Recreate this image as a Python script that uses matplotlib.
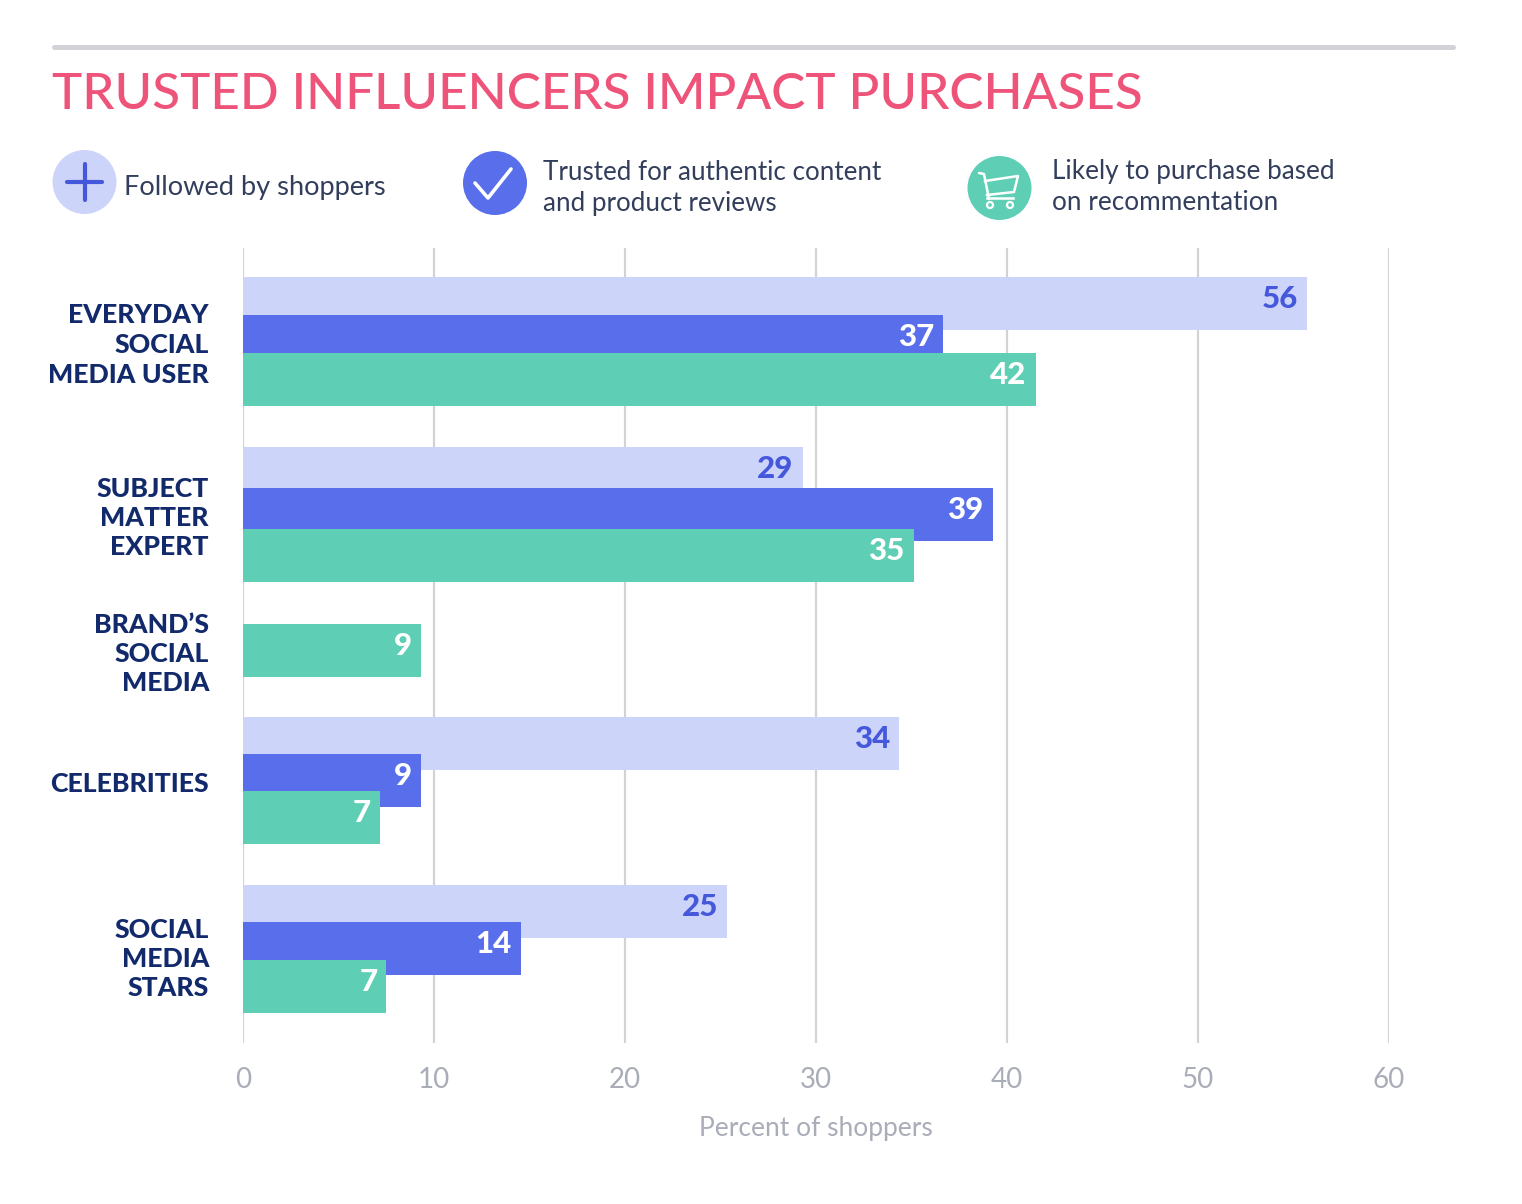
import matplotlib
matplotlib.use('Agg')
import matplotlib.pyplot as plt
from matplotlib.patches import Circle

plt.rcParams['font.family'] = ['Lato', 'DejaVu Sans']

categories = ['EVERYDAY\nSOCIAL\nMEDIA USER', 'SUBJECT\nMATTER\nEXPERT', 'BRAND\u2019S\nSOCIAL\nMEDIA',
              'CELEBRITIES', 'SOCIAL\nMEDIA\nSTARS']
followed = [55.7, 29.3, None, 34.35, 25.35]
trusted = [36.65, 39.25, None, 9.3, 14.55]
likely = [41.5, 35.12, 9.3, 7.15, 7.5]
followed_labels = ['56', '29', None, '34', '25']
trusted_labels = ['37', '39', None, '9', '14']
likely_labels = ['42', '35', '9', '7', '7']
xticks = [0, 10, 20, 30, 40, 50, 60]

# bar tops in pixels, the gaps are not regular in the original
followed_top = [277, 447, None, 717, 885]
trusted_top = [315, 488, None, 754, 922]
likely_top = [353, 529, 624, 791, 960]
label_y = [345, 518, 654, 784, 959]
label_spacing = [1.32, 1.25, 1.27, 1.0, 1.26]
bar_h = 53

LIGHT = '#cdd4f9'
BLUE = '#586eeb'
GREEN = '#5ecfb5'
GRID = '#d2d3d6'
NAVY = '#122a6b'
TEXT = '#323e5c'
GREY = '#a9adb8'
PINK = '#ee5479'
W, H = 1522, 1204

fig = plt.figure(figsize=(W / 100, H / 100), dpi=100, facecolor='white')

# axes go from y=248 to y=1043 in pixels
left, right = 243, 1389
ax = fig.add_axes([left / W, 1 - 1043 / H, (right - left) / W, (1043 - 248) / H])
ax.set_xlim(0, 60)
ax.set_ylim(1043, 248)
ax.patch.set_visible(False)
for s in ax.spines.values():
    s.set_visible(False)
ax.set_xticks(xticks)
ax.set_yticks([])
ax.tick_params(axis='x', length=0, pad=17, labelsize=20, labelcolor=GREY)
ax.grid(axis='x', color=GRID, linewidth=1.6, zorder=0)
ax.set_axisbelow(True)
ax.set_xlabel('Percent of shoppers', fontsize=19, color=GREY, labelpad=17)


def draw_bars(values, tops, labels, color, label_color, z):
    for v, t, lab in zip(values, tops, labels):
        if v is None:
            continue
        ax.barh(t, v, height=bar_h, align='edge', color=color, zorder=z)
        ax.text(v - 0.47, t + 22, lab, ha='right', va='center', fontsize=22.5, fontweight='black',
                color=label_color, zorder=z + 0.5)


draw_bars(followed, followed_top, followed_labels, LIGHT, '#4558dc', 2)
draw_bars(trusted, trusted_top, trusted_labels, BLUE, 'white', 3)
draw_bars(likely, likely_top, likely_labels, GREEN, 'white', 4)

# overlay in pixel coordinates for header and labels
ov = fig.add_axes([0, 0, 1, 1])
ov.set_xlim(0, W)
ov.set_ylim(H, 0)
ov.axis('off')
ov.patch.set_visible(False)

ov.plot([54, 1453], [47, 47], color='#d2d3d6', lw=3.6, solid_capstyle='round')
ov.text(52, 95, 'TRUSTED INFLUENCERS IMPACT PURCHASES', fontsize=36.8, color=PINK, va='center', ha='left',
        fontweight='medium')

for cat, y, sp in zip(categories, label_y, label_spacing):
    ov.text(209, y, cat, ha='right', va='center', multialignment='right', fontsize=19.2, fontweight='black',
            color=NAVY, linespacing=sp)

# legend icons
ov.add_patch(Circle((84.5, 182), 32, color=LIGHT, lw=0))
ov.plot([67, 102], [182, 182], color='#4558dc', lw=3, solid_capstyle='round')
ov.plot([84.5, 84.5], [164, 200], color='#4558dc', lw=3, solid_capstyle='round')
ov.text(124, 187, 'Followed by shoppers', fontsize=19.6, color=TEXT, va='center')

ov.add_patch(Circle((495, 183), 32, color=BLUE, lw=0))
ov.plot([475, 488, 511], [183, 198, 169], color='white', lw=2.6, solid_capstyle='round', solid_joinstyle='round')
ov.text(543, 188, 'Trusted for authentic content\nand product reviews', fontsize=18.7, color=TEXT, va='center',
        linespacing=1.27)

ov.add_patch(Circle((999.5, 188), 32, color=GREEN, lw=0))
ov.plot([979, 984, 989], [173, 174, 199], color='white', lw=1.8, solid_capstyle='round')
ov.plot([985, 1018, 1014, 987], [181, 176, 192, 195], color='white', lw=1.8, solid_joinstyle='round')
ov.plot([987, 1013], [198, 198], color='white', lw=1.8)
ov.add_patch(Circle((990, 205), 3, fc=GREEN, ec='white', lw=1.6, zorder=5))
ov.add_patch(Circle((1010, 205), 3, fc=GREEN, ec='white', lw=1.6, zorder=5))
ov.text(1052, 187, 'Likely to purchase based\non recommentation', fontsize=18.8, color=TEXT, va='center',
        linespacing=1.27)

fig.savefig('out.png', dpi=100)
